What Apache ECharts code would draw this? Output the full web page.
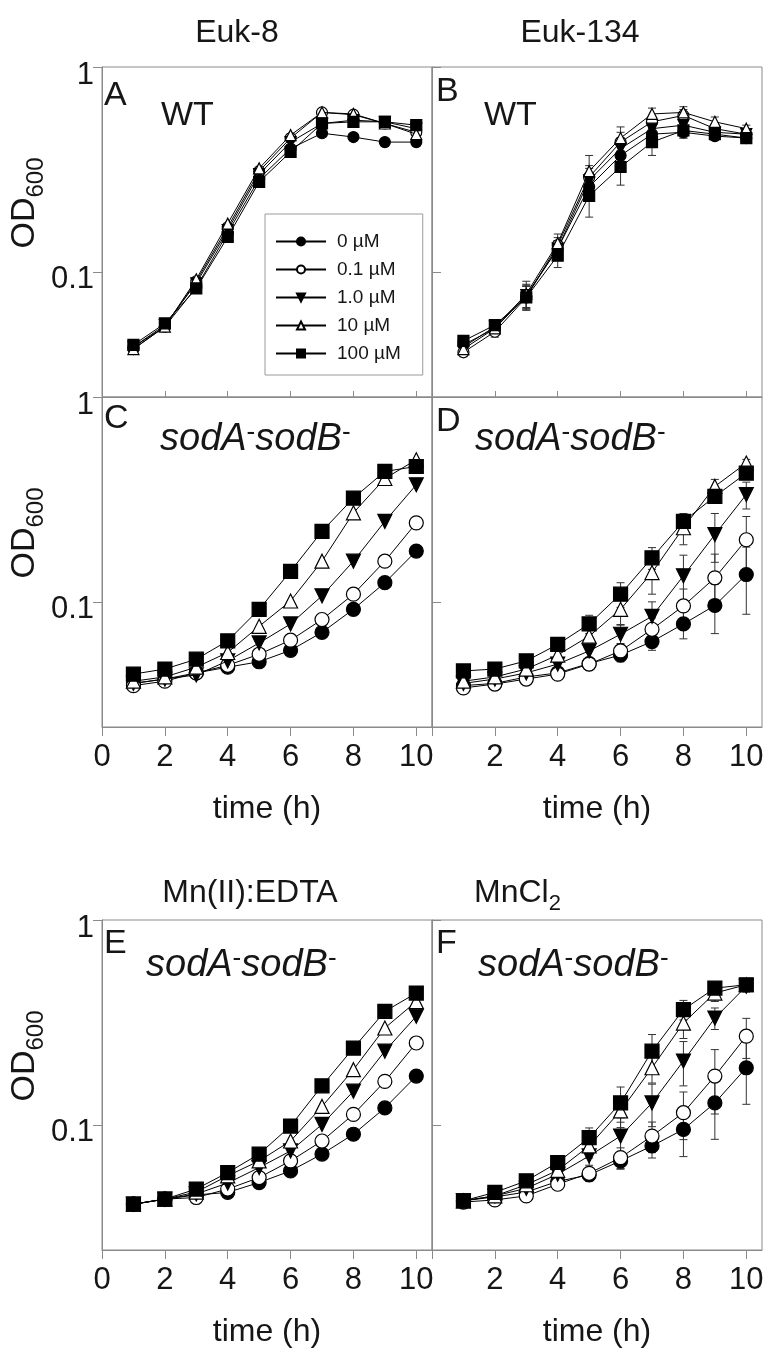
<!DOCTYPE html>
<html>
<head>
<meta charset="utf-8">
<script src="https://cdn.jsdelivr.net/npm/echarts@6/dist/echarts.min.js"></script>
<style>
  html, body { margin: 0; padding: 0; background: #fff; }
  #chart { width: 767px; height: 1349px; }
</style>
</head>
<body>
<div id="chart"></div>
<script>
// time points and dose names
var hours = [1, 2, 3, 4, 5, 6, 7, 8, 9, 10];
var doseNames = ['0 µM', '0.1 µM', '1.0 µM', '10 µM', '100 µM'];
var xTicks = [0, 2, 4, 6, 8, 10];
var xTicksRight = [2, 4, 6, 8, 10];
var yTicks = [0.1, 1];

// A: WT + Euk-8
var a0   = [0.043, 0.054, 0.084, 0.155, 0.285, 0.40, 0.475, 0.455, 0.43, 0.43];
var a01  = [0.042, 0.054, 0.090, 0.165, 0.31, 0.45, 0.60, 0.585, 0.53, 0.48];
var a1   = [0.043, 0.055, 0.088, 0.16, 0.30, 0.43, 0.53, 0.55, 0.54, 0.50];
var a10  = [0.042, 0.054, 0.092, 0.172, 0.32, 0.465, 0.60, 0.59, 0.53, 0.47];
var a100 = [0.044, 0.056, 0.083, 0.148, 0.275, 0.385, 0.53, 0.54, 0.54, 0.52];

// B: WT + Euk-134 (mean, sd)
var b0   = [0.044, 0.053, 0.076, 0.13, 0.26, 0.37, 0.47, 0.48, 0.46, 0.45];
var b01  = [0.0405, 0.051, 0.075, 0.135, 0.29, 0.43, 0.54, 0.58, 0.50, 0.47];
var b1   = [0.043, 0.054, 0.077, 0.13, 0.28, 0.40, 0.50, 0.52, 0.48, 0.47];
var b10  = [0.042, 0.053, 0.078, 0.138, 0.31, 0.45, 0.59, 0.60, 0.54, 0.50];
var b100 = [0.046, 0.055, 0.075, 0.12, 0.235, 0.325, 0.43, 0.49, 0.47, 0.45];
var b0sd   = [0.002, 0.003, 0.010, 0.012, 0.03, 0.04, 0.03, 0.03, 0.02, 0.02];
var b01sd  = [0.002, 0.003, 0.010, 0.012, 0.04, 0.05, 0.04, 0.04, 0.03, 0.02];
var b1sd   = [0.002, 0.003, 0.010, 0.012, 0.04, 0.05, 0.04, 0.03, 0.02, 0.02];
var b10sd  = [0.002, 0.003, 0.012, 0.015, 0.06, 0.06, 0.04, 0.04, 0.03, 0.02];
var b100sd = [0.002, 0.003, 0.010, 0.015, 0.05, 0.06, 0.06, 0.04, 0.03, 0.02];

// C: sodA-sodB- + Euk-8
var c0   = [0.040, 0.042, 0.045, 0.048, 0.051, 0.058, 0.071, 0.092, 0.124, 0.177];
var c01  = [0.039, 0.041, 0.045, 0.049, 0.0555, 0.065, 0.082, 0.109, 0.158, 0.243];
var c1   = [0.040, 0.042, 0.044, 0.0515, 0.063, 0.078, 0.107, 0.158, 0.247, 0.373];
var c10  = [0.041, 0.043, 0.048, 0.0566, 0.076, 0.101, 0.158, 0.272, 0.40, 0.494];
var c100 = [0.0444, 0.047, 0.0525, 0.0645, 0.092, 0.141, 0.221, 0.321, 0.433, 0.458];

// D: sodA-sodB- + Euk-134 (mean, sd)
var d0   = [0.039, 0.040, 0.043, 0.045, 0.050, 0.055, 0.064, 0.078, 0.096, 0.136];
var d01  = [0.038, 0.0397, 0.042, 0.0444, 0.0497, 0.0576, 0.0735, 0.0955, 0.131, 0.201];
var d1   = [0.040, 0.042, 0.045, 0.0497, 0.0576, 0.0695, 0.085, 0.134, 0.213, 0.334];
var d10  = [0.041, 0.043, 0.047, 0.055, 0.068, 0.092, 0.139, 0.23, 0.366, 0.476];
var d100 = [0.046, 0.047, 0.0515, 0.062, 0.078, 0.109, 0.164, 0.247, 0.327, 0.425];
var d0sd   = [0, 0, 0, 0.002, 0.003, 0.004, 0.006, 0.012, 0.026, 0.049];
var d01sd  = [0, 0, 0, 0.002, 0.003, 0.005, 0.010, 0.020, 0.040, 0.060];
var d1sd   = [0, 0, 0.002, 0.003, 0.004, 0.008, 0.015, 0.035, 0.057, 0.050];
var d10sd  = [0, 0, 0.002, 0.003, 0.006, 0.015, 0.030, 0.040, 0.030, 0.020];
var d100sd = [0, 0, 0.002, 0.004, 0.008, 0.015, 0.020, 0.020, 0.020, 0.020];

// E: sodA-sodB- + Mn(II):EDTA
var e0   = [0.041, 0.0434, 0.0455, 0.0468, 0.0523, 0.0596, 0.072, 0.09, 0.121, 0.173];
var e01  = [0.041, 0.0434, 0.0442, 0.0486, 0.0553, 0.0667, 0.0834, 0.1125, 0.163, 0.251];
var e1   = [0.041, 0.0434, 0.046, 0.052, 0.0619, 0.0746, 0.1005, 0.146, 0.229, 0.339];
var e10  = [0.041, 0.0434, 0.047, 0.0564, 0.0667, 0.0834, 0.123, 0.186, 0.297, 0.40];
var e100 = [0.041, 0.0434, 0.0486, 0.0585, 0.072, 0.0987, 0.155, 0.237, 0.358, 0.44];

// F: sodA-sodB- + MnCl2 (mean, sd)
var f0   = [0.0426, 0.0445, 0.047, 0.053, 0.057, 0.0667, 0.0789, 0.095, 0.128, 0.19];
var f01  = [0.042, 0.043, 0.045, 0.0513, 0.058, 0.0692, 0.0882, 0.1147, 0.173, 0.271];
var f1   = [0.0426, 0.045, 0.049, 0.0574, 0.0705, 0.0882, 0.128, 0.205, 0.332, 0.475];
var f10  = [0.0426, 0.045, 0.051, 0.060, 0.0789, 0.117, 0.19, 0.314, 0.44, 0.483];
var f100 = [0.0426, 0.0468, 0.0533, 0.0655, 0.0866, 0.128, 0.229, 0.365, 0.465, 0.483];
var f0sd   = [0, 0, 0.002, 0.003, 0.004, 0.006, 0.010, 0.025, 0.043, 0.064];
var f01sd  = [0, 0, 0.002, 0.003, 0.004, 0.008, 0.015, 0.030, 0.060, 0.060];
var f1sd   = [0, 0, 0.002, 0.004, 0.007, 0.020, 0.030, 0.050, 0.040, 0.030];
var f10sd  = [0, 0, 0.002, 0.004, 0.010, 0.020, 0.030, 0.050, 0.040, 0.020];
var f100sd = [0, 0, 0.002, 0.004, 0.010, 0.025, 0.047, 0.040, 0.030, 0.020];

var FONT = '"Liberation Sans", Arial, Helvetica, sans-serif';
var INK = '#161616';
var FRAME = '#8a8a8a';

// marker look per dose
var doseSymbol = ['circle', 'circle', 'triangle', 'triangle', 'rect'];
var doseRotate = [0, 0, 180, 0, 0];
var doseFilled = [true, false, true, false, true];

var panels = [
  { left: 102, top: 67,  right: false, bottomRow: false, size: 11, means: [a0, a01, a1, a10, a100] },
  { left: 432, top: 67,  right: true,  bottomRow: false, size: 11, means: [b0, b01, b1, b10, b100], sds: [b0sd, b01sd, b1sd, b10sd, b100sd] },
  { left: 102, top: 397, right: false, bottomRow: true,  size: 14, means: [c0, c01, c1, c10, c100] },
  { left: 432, top: 397, right: true,  bottomRow: true,  size: 14, means: [d0, d01, d1, d10, d100], sds: [d0sd, d01sd, d1sd, d10sd, d100sd] },
  { left: 102, top: 920, right: false, bottomRow: true,  size: 14, means: [e0, e01, e1, e10, e100] },
  { left: 432, top: 920, right: true,  bottomRow: true,  size: 14, means: [f0, f01, f1, f10, f100], sds: [f0sd, f01sd, f1sd, f10sd, f100sd] }
];

function errorBar(params, api) {
  var x = api.value(0);
  var top = api.coord([x, api.value(2)]);
  var bot = api.coord([x, api.value(1)]);
  var w = 4;
  var st = { stroke: '#333', lineWidth: 1 };
  return {
    type: 'group',
    children: [
      { type: 'line', shape: { x1: top[0], y1: top[1], x2: bot[0], y2: bot[1] }, style: st },
      { type: 'line', shape: { x1: top[0] - w, y1: top[1], x2: top[0] + w, y2: top[1] }, style: st },
      { type: 'line', shape: { x1: bot[0] - w, y1: bot[1], x2: bot[0] + w, y2: bot[1] }, style: st }
    ]
  };
}

var grids = [], xAxes = [], yAxes = [], series = [];

panels.forEach(function (p, gi) {
  grids.push({
    left: p.left, top: p.top, width: 330, height: 330,
    show: true, borderColor: FRAME, borderWidth: 1, backgroundColor: 'transparent'
  });
  xAxes.push({
    type: 'value', gridIndex: gi, min: 0, max: 10.5,
    axisLine: { show: true, onZero: false, lineStyle: { color: FRAME, width: 1 } },
    axisTick: { show: true, inside: !p.bottomRow, length: p.bottomRow ? 9 : 6,
                customValues: xTicks, lineStyle: { color: FRAME } },
    axisLabel: { show: p.bottomRow, customValues: p.right ? xTicksRight : xTicks,
                 fontSize: 31, fontFamily: FONT, color: INK, margin: 15 },
    splitLine: { show: false },
    name: p.bottomRow ? 'time (h)' : '',
    nameLocation: 'middle', nameGap: 66,
    nameTextStyle: { fontSize: 32, fontFamily: FONT, color: INK }
  });
  yAxes.push({
    type: 'log', logBase: 10, gridIndex: gi, min: 0.0245, max: 1,
    axisLine: { show: true, lineStyle: { color: FRAME, width: 1 } },
    axisTick: { show: true, inside: p.right, length: 9, customValues: yTicks, lineStyle: { color: FRAME } },
    axisLabel: { show: !p.right, customValues: yTicks, fontSize: 31, fontFamily: FONT, color: INK, margin: 8,
                 verticalAlign: 'top', lineHeight: 16,
                 formatter: function (v) { return v >= 1 ? '1' : '0.1'; } },
    splitLine: { show: false }
  });

  p.means.forEach(function (vals, k) {
    if (p.sds) {
      var bars = [];
      hours.forEach(function (h, i) {
        if (p.sds[k][i] > 0) bars.push([h, vals[i] - p.sds[k][i], vals[i] + p.sds[k][i]]);
      });
      series.push({
        type: 'custom', name: 'sd', xAxisIndex: gi, yAxisIndex: gi, z: 1,
        renderItem: errorBar, encode: { x: 0, y: [1, 2] }, data: bars, silent: true
      });
    }
    series.push({
      type: 'line', name: doseNames[k], xAxisIndex: gi, yAxisIndex: gi, z: 3 + k,
      data: hours.map(function (h, i) { return [h, vals[i]]; }),
      symbol: doseSymbol[k], symbolRotate: doseRotate[k], symbolSize: p.size,
      showAllSymbol: true,
      lineStyle: { color: '#000', width: 1 },
      itemStyle: { color: doseFilled[k] ? '#000' : '#fff', borderColor: '#000', borderWidth: 1.2 },
      emphasis: { disabled: true }, animation: false
    });
  });
});

function txt(text, x, y, size, opts) {
  opts = opts || {};
  return {
    type: 'text', x: x, y: y, rotation: opts.rotation || 0, z: 10,
    style: {
      text: text, fontSize: size, fontFamily: FONT, fill: INK,
      fontStyle: opts.italic ? 'italic' : 'normal',
      align: opts.align || 'left', verticalAlign: 'middle',
      textAlign: opts.align || 'left', textVerticalAlign: 'middle',
      rich: opts.rich
    }
  };
}

var genoRich = {
  i: { fontSize: 38, fontStyle: 'italic', fontFamily: FONT, fill: INK, color: INK, verticalAlign: 'bottom' },
  m: { fontSize: 26, fontFamily: FONT, fill: INK, color: INK, verticalAlign: 'top', padding: [0, 0, 8, 0] }
};
var geno = '{i|sodA}{m|-}{i|sodB}{m|-}';

var odRich = {
  a: { fontSize: 34, fontFamily: FONT, fill: INK, color: INK, verticalAlign: 'top', padding: [0, 0, 6, 0] },
  s: { fontSize: 24, fontFamily: FONT, fill: INK, color: INK, verticalAlign: 'bottom' }
};
var od = '{a|OD}{s|600}';

var subRich = {
  a: { fontSize: 32, fontFamily: FONT, fill: INK, color: INK, verticalAlign: 'top', padding: [0, 0, 5, 0] },
  s: { fontSize: 22, fontFamily: FONT, fill: INK, color: INK, verticalAlign: 'bottom' }
};

var graphics = [
  txt('Euk-8', 237, 33, 32, { align: 'center' }),
  txt('Euk-134', 580, 33, 32, { align: 'center' }),
  txt('Mn(II):EDTA', 250, 893, 32, { align: 'center' }),
  txt('{a|MnCl}{s|2}', 474, 896, 32, { rich: subRich }),
  txt('A', 104, 96, 34), txt('B', 436, 92, 34),
  txt('C', 104, 419, 34), txt('D', 436, 422, 34),
  txt('E', 104, 944, 34), txt('F', 436, 944, 34),
  txt('WT', 161, 116, 34), txt('WT', 484, 116, 34),
  txt(geno, 160, 439, 38, { rich: genoRich }),
  txt(geno, 475, 439, 38, { rich: genoRich }),
  txt(geno, 146, 965, 38, { rich: genoRich }),
  txt(geno, 478, 965, 38, { rich: genoRich }),
  txt(od, 28, 67 + 136, 34, { rich: odRich, rotation: Math.PI / 2, align: 'center' }),
  txt(od, 28, 397 + 136, 34, { rich: odRich, rotation: Math.PI / 2, align: 'center' }),
  txt(od, 28, 920 + 136, 34, { rich: odRich, rotation: Math.PI / 2, align: 'center' })
];

var chart = echarts.init(document.getElementById('chart'), null, { renderer: 'canvas' });
chart.setOption({
  backgroundColor: '#fff',
  animation: false,
  legend: {
    data: doseNames, orient: 'vertical', left: 265, top: 214,
    padding: [18, 22, 12, 10], itemGap: 9, itemWidth: 50, itemHeight: 10,
    borderColor: '#9a9a9a', borderWidth: 1, backgroundColor: '#fff',
    selectedMode: false,
    textStyle: { fontSize: 19, fontFamily: FONT, color: INK, padding: [0, 0, 0, 6] }
  },
  grid: grids,
  xAxis: xAxes,
  yAxis: yAxes,
  series: series,
  graphic: graphics
});
</script>
</body>
</html>
